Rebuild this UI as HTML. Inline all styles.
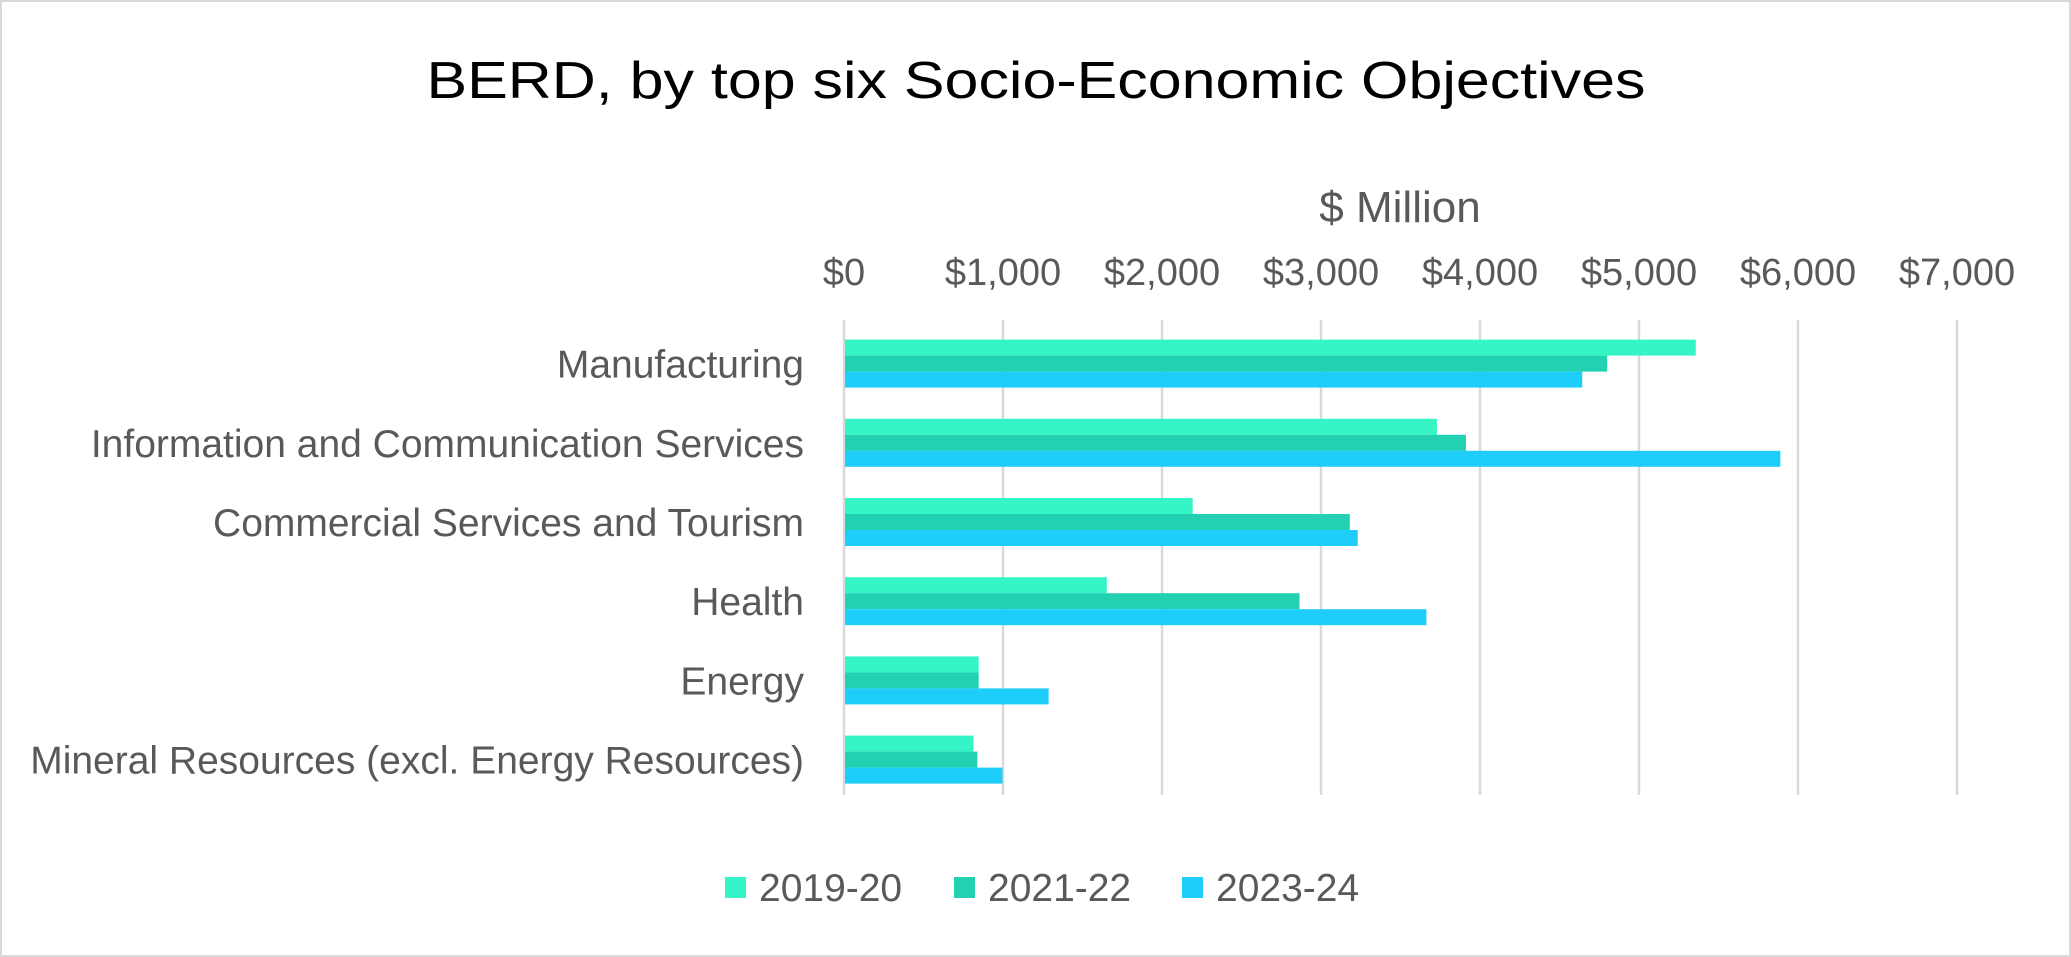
<!DOCTYPE html>
<html><head><meta charset="utf-8"><style>
html,body{margin:0;padding:0;background:#fff;}
svg{display:block;font-family:"Liberation Sans",Arial,sans-serif;}
</style></head><body>
<svg id="chart" width="2071" height="957" viewBox="0 0 2071 957">
<rect x="1" y="1" width="2069" height="955" fill="#fff" stroke="#d9d9d9" stroke-width="2"/>
<text x="1036" y="98" text-anchor="middle" font-size="52" fill="#000" textLength="1219" lengthAdjust="spacingAndGlyphs">BERD, by top six Socio-Economic Objectives</text>
<text x="1400" y="222" text-anchor="middle" font-size="44" fill="#595959">$ Million</text>
<g id="grid"></g><g id="ticks"></g><g id="cats"></g><g id="bars"></g><g id="legend"></g>
</svg>
<script>
const categories=["Manufacturing","Information and Communication Services","Commercial Services and Tourism","Health","Energy","Mineral Resources (excl. Energy Resources)"];
const series=["2019-20","2021-22","2023-24"];
const v2019=[5357,3729,2193,1653,847,814];
const v2021=[4800,3912,3181,2865,847,839];
const v2023=[4643,5889,3231,3663,1287,997];
const tickValues=[0,1000,2000,3000,4000,5000,6000,7000];
const tickLabels=["$0","$1,000","$2,000","$3,000","$4,000","$5,000","$6,000","$7,000"];
const colors=["#35f5c6","#22d0b2","#1fcdfb"];
const NS="http://www.w3.org/2000/svg";
const x0=844,x1=1957,xmax=7000;
const xs=v=>x0+(v/xmax)*(x1-x0);
const plotTop=324,band=79.2,bh=16;
const yc=i=>plotTop+band*(i+0.5);
function mk(tag,attrs,parent){const e=document.createElementNS(NS,tag);for(const k in attrs)e.setAttribute(k,attrs[k]);document.getElementById(parent).appendChild(e);return e;}
tickValues.forEach((t,i)=>{
  const g=mk('line',{x1:xs(t),x2:xs(t),y1:320,y2:795,stroke:'#d9d9d9','stroke-width':2.5},'grid');
  
  
  const tx=mk('text',{x:xs(t),y:285,'text-anchor':'middle','font-size':38,fill:'#595959'},'ticks');
  tx.textContent=tickLabels[i];
  
  
});
const data=[v2019,v2021,v2023];
categories.forEach((c,i)=>{
  const t=mk('text',{x:804,y:yc(i)+14,'text-anchor':'end','font-size':39,fill:'#595959'},'cats');
  t.textContent=c;
  
  
  data.forEach((arr,s)=>{
    const r=mk('rect',{x:x0+1,y:yc(i)-1.5*bh+s*bh,width:xs(arr[i])-x0-1,height:bh,fill:colors[s]},'bars');
    
    
  });
});
const lx=[725,954,1182];
series.forEach((s,i)=>{
  const r=mk('rect',{x:lx[i],y:877,width:21,height:21,fill:colors[i]},'legend');
  
  
  const t=mk('text',{x:lx[i]+34,y:901,'font-size':39,fill:'#595959'},'legend');
  t.textContent=s;
  
  
});
</script>
</body></html>
